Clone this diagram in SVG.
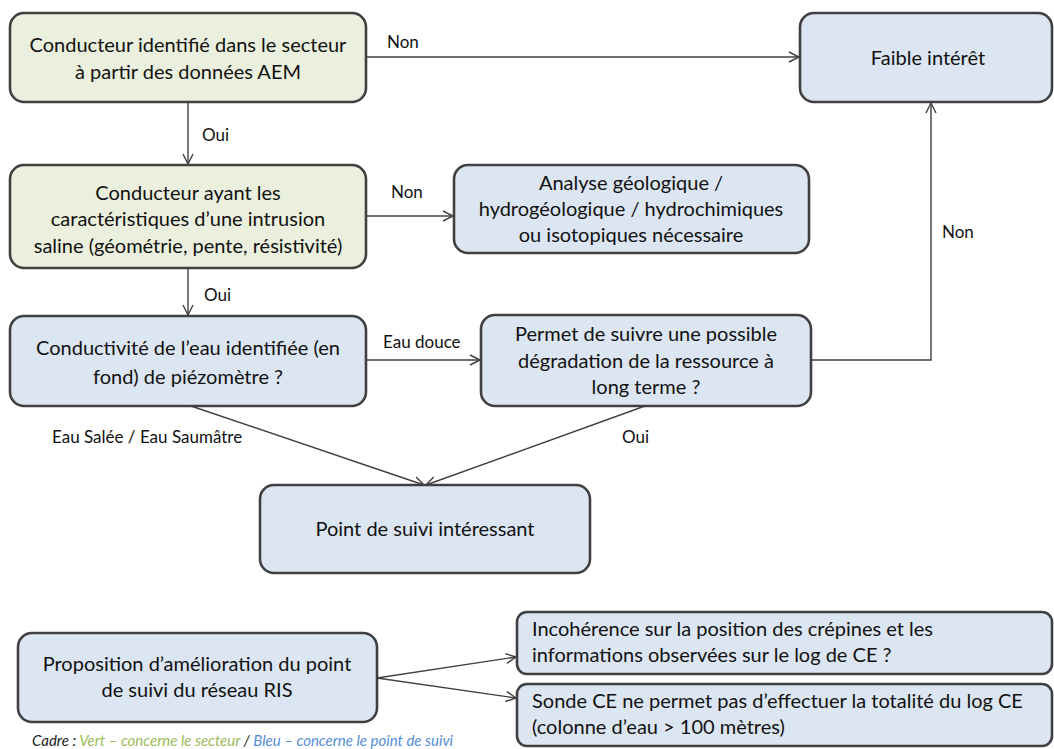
<svg xmlns="http://www.w3.org/2000/svg" width="1054" height="749" viewBox="0 0 1054 749">
<style>
.box{stroke:#404040;stroke-width:2.6}
.g{fill:#EBF0DE}
.b{fill:#DCE6F2}
.t{font-family:Lato,"Liberation Sans",sans-serif;font-size:20px;fill:#111;text-anchor:middle}
.tl{font-family:Lato,"Liberation Sans",sans-serif;font-size:20px;fill:#111}
.lab{font-family:Lato,"Liberation Sans",sans-serif;font-size:17px;fill:#111}
.c{fill:none;stroke:#404040;stroke-width:1.4}
.cap{font-family:Lato,"Liberation Sans",sans-serif;font-size:15px;font-style:italic}
</style>
<defs>
<marker id="ar" markerUnits="userSpaceOnUse" markerWidth="14" markerHeight="14" refX="11" refY="6" orient="auto">
<path d="M1,1 L11,6 L1,11" fill="none" stroke="#404040" stroke-width="1.4"/>
</marker>
</defs>
<rect width="1054" height="749" fill="#fff"/>
<g id="connectors">
<path class="c" d="M366,57 H799" marker-end="url(#ar)"/>
<path class="c" d="M188,102 V164" marker-end="url(#ar)"/>
<path class="c" d="M366,216 H453" marker-end="url(#ar)"/>
<path class="c" d="M188,268 V315" marker-end="url(#ar)"/>
<path class="c" d="M366,360 H480" marker-end="url(#ar)"/>
<path class="c" d="M811,360 H931 V103" marker-end="url(#ar)"/>
<path class="c" d="M191,406 L424,485" marker-end="url(#ar)"/>
<path class="c" d="M645,406 L426,485" marker-end="url(#ar)"/>
<path class="c" d="M377,678 L516,657" marker-end="url(#ar)"/>
<path class="c" d="M377,678 L516,698" marker-end="url(#ar)"/>
<text class="lab" x="387" y="48">Non</text>
<text class="lab" x="202" y="141">Oui</text>
<text class="lab" x="391" y="198">Non</text>
<text class="lab" x="204" y="301">Oui</text>
<text class="lab" x="942" y="238">Non</text>
<text class="lab" x="383" y="348">Eau douce</text>
<text class="lab" x="52" y="443">Eau Salée / Eau Saumâtre</text>
<text class="lab" x="622" y="443">Oui</text>
</g>
<g id="n1">
<rect class="box g" x="10" y="13" width="356" height="89" rx="14"/>
<text class="t" x="188" y="52">Conducteur identifié dans le secteur</text>
<text class="t" x="188" y="79">à partir des données AEM</text>
</g>
<g id="n2">
<rect class="box g" x="10" y="165" width="356" height="103" rx="14"/>
<text class="t" x="188" y="200">Conducteur ayant les</text>
<text class="t" x="188" y="226">caractéristiques d’une intrusion</text>
<text class="t" x="188" y="253">saline (géométrie, pente, résistivité)</text>
</g>
<g id="n3">
<rect class="box b" x="454" y="165" width="355" height="88" rx="14"/>
<text class="t" x="631" y="190">Analyse géologique /</text>
<text class="t" x="631" y="216">hydrogéologique / hydrochimiques</text>
<text class="t" x="631" y="242">ou isotopiques nécessaire</text>
</g>
<g id="n4">
<rect class="box b" x="800" y="13" width="252" height="89" rx="14"/>
<text class="t" x="928" y="65">Faible intérêt</text>
</g>
<g id="n5">
<rect class="box b" x="10" y="316" width="356" height="90" rx="14"/>
<text class="t" x="188" y="355">Conductivité de l’eau identifiée (en</text>
<text class="t" x="188" y="384">fond) de piézomètre ?</text>
</g>
<g id="n6">
<rect class="box b" x="481" y="315" width="330" height="91" rx="14"/>
<text class="t" x="646" y="341">Permet de suivre une possible</text>
<text class="t" x="646" y="368">dégradation de la ressource à</text>
<text class="t" x="646" y="394">long terme ?</text>
</g>
<g id="n7">
<rect class="box b" x="260" y="485" width="330" height="88" rx="14"/>
<text class="t" x="425" y="536">Point de suivi intéressant</text>
</g>
<g id="n8">
<rect class="box b" x="18" y="633" width="359" height="89" rx="14"/>
<text class="t" x="197" y="671">Proposition d’amélioration du point</text>
<text class="t" x="197" y="697">de suivi du réseau RIS</text>
</g>
<g id="n9">
<rect class="box b" x="517" y="612" width="535" height="62" rx="10"/>
<text class="tl" x="532" y="636">Incohérence sur la position des crépines et les</text>
<text class="tl" x="532" y="662">informations observées sur le log de CE ?</text>
</g>
<g id="n10">
<rect class="box b" x="517" y="684" width="535" height="62" rx="10"/>
<text class="tl" x="532" y="708">Sonde CE ne permet pas d’effectuer la totalité du log CE</text>
<text class="tl" x="532" y="734">(colonne d’eau &gt; 100 mètres)</text>
</g>
<text class="cap" x="32" y="746"><tspan fill="#222">Cadre : </tspan><tspan fill="#9BBB59">Vert – concerne le secteur </tspan><tspan fill="#222">/ </tspan><tspan fill="#558ED5">Bleu – concerne le point de suivi</tspan></text>
</svg>
